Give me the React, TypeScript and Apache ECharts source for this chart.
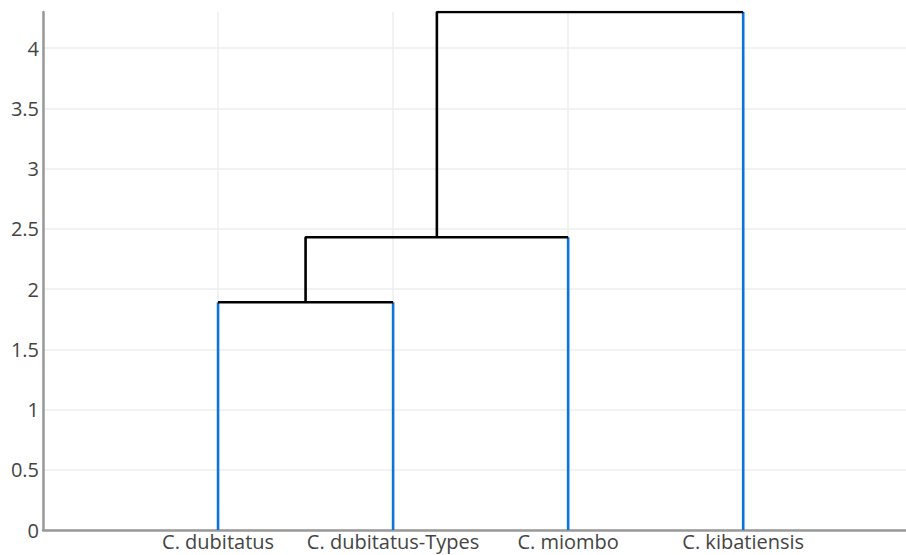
import React, { useEffect, useRef } from "react";
import * as echarts from "echarts";

const leafNames = ["C. dubitatus", "C. dubitatus-Types", "C. miombo", "C. kibatiensis"];
// merges: [childA, childB, height]; cluster ids 0..3 are leaves, 4.. are merges
const mergeA = [0, 4, 5];
const mergeB = [1, 2, 3];
const mergeHeights = [1.89, 2.43, 4.3];
const yTicks = [0, 0.5, 1, 1.5, 2, 2.5, 3, 3.5, 4];

const BLUE = "#0a74da";
const BLACK = "#000000";

export default function App() {
  const ref = useRef<HTMLDivElement>(null);
  useEffect(() => {
    if (!ref.current) return;
    const chart = echarts.init(ref.current, null, { renderer: "svg" });
    const n = leafNames.length;
    const xs: number[] = leafNames.map((_, i) => i * 10 + 5);
    const hs: number[] = leafNames.map(() => 0);
    const leafTop: number[] = leafNames.map(() => 0);
    const series: any[] = [];
    const seg = (pts: number[][], color: string) => ({
      type: "line",
      data: pts,
      symbol: "none",
      silent: true,
      lineStyle: { color, width: 2.6 },
      z: color === BLUE ? 3 : 4,
    });
    mergeHeights.forEach((h, k) => {
      const a = mergeA[k];
      const b = mergeB[k];
      if (a < n) leafTop[a] = h;
      if (b < n) leafTop[b] = h;
      const ya = a < n ? h : hs[a];
      const yb = b < n ? h : hs[b];
      series.push(
        seg(
          [
            [xs[a], ya],
            [xs[a], h],
            [xs[b], h],
            [xs[b], yb],
          ],
          BLACK
        )
      );
      xs.push((xs[a] + xs[b]) / 2);
      hs.push(h);
    });
    for (let i = 0; i < n; i++) {
      series.push(
        seg(
          [
            [xs[i], 0],
            [xs[i], leafTop[i]],
          ],
          BLUE
        )
      );
    }
    const labelMap: Record<string, string> = {};
    leafNames.forEach((nm, i) => (labelMap[String(i * 10 + 5)] = nm));
    chart.setOption({
      animation: false,
      grid: { left: 43, right: 0, top: 12, bottom: 25, containLabel: false },
      xAxis: {
        type: "value",
        min: -5,
        max: 44.3,
        interval: 5,
        axisLine: { show: true, onZero: false, lineStyle: { color: "#999", width: 2.5 } },
        axisTick: { show: false },
        axisLabel: {
          showMaxLabel: false,
          showMinLabel: true,
          formatter: (v: number) => labelMap[String(v)] || "",
          color: "#444",
          fontFamily: "Open Sans",
          fontSize: 20,
          margin: 1,
        },
        splitLine: {
          show: true,
          showMaxLine: false,
          lineStyle: { color: ["#eeeeee", "rgba(0,0,0,0)"], width: 1.5 },
        },
      },
      yAxis: {
        type: "value",
        min: 0,
        max: 4.3,
        interval: 0.5,
        axisLine: { show: true, onZero: false, lineStyle: { color: "#999", width: 2.5 } },
        axisTick: { show: false },
        axisLabel: {
          showMaxLabel: false,
          formatter: (v: number) => (yTicks.includes(v) ? String(v) : ""),
          color: "#444",
          fontFamily: "Open Sans",
          fontSize: 20,
          margin: 4,
        },
        splitLine: { show: true, showMaxLine: false, lineStyle: { color: "#eeeeee", width: 1.5 } },
      },
      series,
    });
    return () => chart.dispose();
  }, []);
  return (
    <div
      ref={ref}
      style={{ position: "fixed", left: 0, top: 0, width: 906, height: 555, background: "#fff" }}
    />
  );
}
